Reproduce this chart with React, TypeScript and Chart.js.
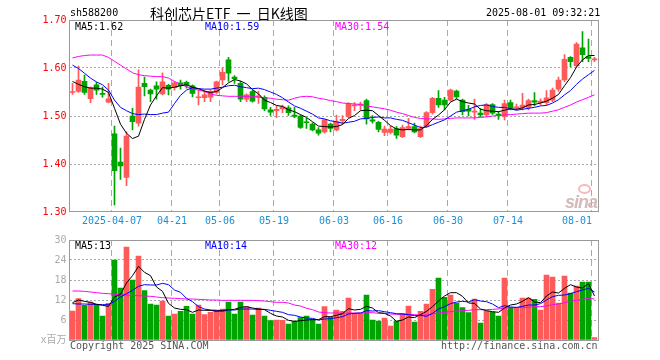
import React, { useEffect, useRef } from "react";
import { Chart, registerables } from "chart.js";

Chart.register(...registerables);

// ---- data ----
const categories = [
  "03-26","03-27","03-28","03-31","04-01","04-02","04-03","04-07","04-08","04-09",
  "04-10","04-11","04-14","04-15","04-16","04-17","04-18","04-21","04-22","04-23",
  "04-24","04-25","04-28","04-29","04-30","05-06","05-07","05-08","05-09","05-12",
  "05-13","05-14","05-15","05-16","05-19","05-20","05-21","05-22","05-23","05-26",
  "05-27","05-28","05-29","05-30","06-03","06-04","06-05","06-06","06-09","06-10",
  "06-11","06-12","06-13","06-16","06-17","06-18","06-19","06-20","06-23","06-24",
  "06-25","06-26","06-27","06-30","07-01","07-02","07-03","07-04","07-07","07-08",
  "07-09","07-10","07-11","07-14","07-15","07-16","07-17","07-18","07-21","07-22",
  "07-23","07-24","07-25","07-28","07-29","07-30","07-31","08-01"
];

const tickDates = ["04-07","04-21","05-06","05-19","06-03","06-16","06-30","07-14","08-01"];

const opens = [
  1.549,1.551,1.572,1.536,1.565,1.547,1.529,1.463,1.404,1.372,
  1.500,1.485,1.568,1.554,1.563,1.546,1.564,1.559,1.569,1.570,
  1.563,1.538,1.538,1.539,1.549,1.575,1.617,1.581,1.568,1.535,
  1.551,1.539,1.539,1.513,1.511,1.515,1.517,1.502,1.500,1.488,
  1.483,1.471,1.467,1.483,1.471,1.490,1.499,1.521,1.522,1.532,
  1.492,1.487,1.466,1.466,1.474,1.457,1.474,1.478,1.457,1.479,
  1.507,1.537,1.533,1.533,1.552,1.533,1.514,1.508,1.506,1.502,
  1.524,1.504,1.499,1.528,1.517,1.518,1.518,1.532,1.528,1.528,
  1.533,1.556,1.575,1.622,1.605,1.642,1.624,1.617
];
const highs = [
  1.568,1.604,1.585,1.561,1.570,1.560,1.568,1.479,1.433,1.467,
  1.516,1.596,1.581,1.556,1.571,1.590,1.566,1.572,1.575,1.573,
  1.565,1.554,1.553,1.554,1.573,1.601,1.622,1.584,1.572,1.546,
  1.554,1.552,1.542,1.518,1.521,1.523,1.521,1.518,1.502,1.495,
  1.486,1.476,1.493,1.485,1.502,1.501,1.528,1.528,1.529,1.535,
  1.501,1.489,1.479,1.479,1.478,1.481,1.495,1.485,1.479,1.509,
  1.539,1.553,1.539,1.556,1.554,1.535,1.522,1.535,1.516,1.526,
  1.526,1.509,1.533,1.533,1.525,1.547,1.535,1.549,1.536,1.553,
  1.558,1.581,1.628,1.624,1.653,1.676,1.660,1.622
];
const lows = [
  1.545,1.549,1.545,1.528,1.545,1.539,1.527,1.315,1.368,1.355,
  1.471,1.479,1.542,1.530,1.535,1.544,1.544,1.554,1.556,1.558,
  1.540,1.523,1.530,1.530,1.546,1.565,1.572,1.568,1.530,1.530,
  1.529,1.526,1.511,1.501,1.4965,1.507,1.501,1.4965,1.474,1.474,
  1.469,1.460,1.464,1.467,1.469,1.483,1.4965,1.511,1.5125,1.483,
  1.485,1.467,1.459,1.4625,1.4535,1.455,1.471,1.465,1.455,1.476,
  1.504,1.518,1.5125,1.531,1.536,1.502,1.500,1.493,1.4986,1.4986,
  1.5035,1.493,1.4917,1.5125,1.5125,1.5125,1.5125,1.521,1.523,1.523,
  1.530,1.551,1.5715,1.603,1.603,1.613,1.613,1.613
];
const closes = [
  1.551,1.575,1.549,1.559,1.554,1.545,1.536,1.386,1.396,1.458,
  1.488,1.560,1.561,1.546,1.556,1.571,1.556,1.569,1.563,1.565,
  1.547,1.540,1.544,1.551,1.571,1.591,1.589,1.578,1.535,1.544,
  1.531,1.542,1.515,1.508,1.514,1.519,1.507,1.499,1.476,1.486,
  1.471,1.464,1.492,1.474,1.488,1.493,1.526,1.523,1.525,1.494,
  1.489,1.472,1.473,1.473,1.460,1.476,1.478,1.467,1.474,1.507,
  1.537,1.523,1.523,1.554,1.540,1.509,1.510,1.510,1.502,1.524,
  1.506,1.501,1.526,1.517,1.519,1.523,1.532,1.529,1.531,1.538,
  1.554,1.575,1.618,1.613,1.650,1.628,1.620,1.619
];

const ma5 = [
  1.572,1.566,1.561,1.558,1.558,1.556,1.549,1.516,1.483,1.464,
  1.453,1.458,1.493,1.523,1.542,1.559,1.558,1.560,1.563,1.565,
  1.560,1.557,1.552,1.549,1.551,1.559,1.569,1.576,1.573,1.567,
  1.555,1.546,1.533,1.528,1.522,1.520,1.513,1.509,1.503,1.497,
  1.488,1.479,1.478,1.477,1.478,1.482,1.495,1.501,1.511,1.512,
  1.511,1.501,1.491,1.480,1.473,1.471,1.472,1.471,1.471,1.480,
  1.493,1.502,1.513,1.529,1.535,1.530,1.527,1.525,1.514,1.511,
  1.510,1.509,1.512,1.515,1.514,1.517,1.523,1.524,1.527,1.531,
  1.537,1.545,1.563,1.580,1.602,1.617,1.626,1.626
];
const ma10 = [
  1.606,1.599,1.589,1.579,1.571,1.565,1.554,1.533,1.518,1.511,
  1.505,1.503,1.504,1.503,1.503,1.506,1.508,1.526,1.543,1.554,
  1.559,1.557,1.556,1.556,1.558,1.560,1.563,1.564,1.561,1.559,
  1.557,1.558,1.555,1.550,1.545,1.538,1.529,1.521,1.516,1.510,
  1.504,1.496,1.494,1.490,1.488,1.485,1.487,1.489,1.494,1.495,
  1.497,1.498,1.496,1.496,1.493,1.491,1.486,1.481,1.476,1.477,
  1.482,1.487,1.492,1.500,1.508,1.511,1.514,1.519,1.522,1.523,
  1.520,1.518,1.518,1.515,1.512,1.514,1.516,1.518,1.521,1.522,
  1.527,1.534,1.544,1.553,1.566,1.577,1.586,1.595
];
const ma30 = [
  1.621,1.624,1.626,1.627,1.627,1.627,1.622,1.614,1.606,1.598,
  1.590,1.586,1.584,1.583,1.582,1.582,1.579,1.572,1.566,1.561,
  1.557,1.554,1.551,1.546,1.543,1.542,1.541,1.541,1.541,1.541,
  1.541,1.539,1.538,1.537,1.535,1.534,1.533,1.537,1.540,1.541,
  1.540,1.537,1.535,1.532,1.530,1.527,1.526,1.525,1.524,1.521,
  1.519,1.517,1.515,1.512,1.508,1.505,1.501,1.497,1.495,1.494,
  1.494,1.493,1.494,1.495,1.496,1.496,1.496,1.496,1.497,1.498,
  1.500,1.501,1.502,1.503,1.504,1.505,1.506,1.506,1.506,1.507,
  1.510,1.513,1.518,1.523,1.529,1.534,1.539,1.544
];

// volume, millions
const volumes = [
  8.7,12.4,10.4,11.4,10.7,7.2,11.0,24.0,15.6,27.9,
  18.0,25.2,14.8,10.8,10.5,11.7,7.2,7.8,8.6,10.1,
  7.8,10.5,7.6,8.3,9.0,9.3,11.4,7.8,11.4,10.0,
  7.5,9.6,7.2,5.8,6.0,5.9,4.8,5.6,6.7,7.2,
  6.2,4.8,10.0,6.9,9.0,8.6,12.6,8.0,8.0,13.5,
  6.0,5.7,6.6,4.2,5.7,8.0,10.2,5.4,8.6,10.8,
  15.2,18.6,12.8,13.5,11.1,9.7,8.2,12.3,5.1,8.7,
  8.4,7.2,18.6,9.8,9.8,12.6,12.6,12.2,9.0,19.5,
  18.9,11.1,19.2,14.1,16.2,17.4,17.4,0.7
];
const vma5 = [
  11.2,12.0,11.6,11.3,10.7,10.4,10.1,12.9,13.7,17.1,
  19.3,22.1,20.3,19.3,15.9,14.6,11.0,9.6,9.2,9.1,
  8.3,9.0,8.9,8.9,8.6,8.9,9.1,9.2,9.8,10.0,
  9.6,9.3,9.1,8.0,7.2,6.9,5.9,5.6,5.8,6.0,
  6.1,6.1,7.0,7.0,7.4,7.9,9.4,9.0,9.2,10.1,
  9.6,8.2,8.0,7.2,5.6,6.0,6.9,6.7,7.6,8.6,
  10.0,11.7,13.2,14.2,14.2,13.1,11.1,11.0,9.3,8.8,
  8.5,8.3,9.6,10.5,10.8,11.6,12.7,11.4,11.2,13.2,
  14.4,14.1,15.5,16.6,15.9,15.6,16.9,13.2
];
const vma10 = [
  10.9,10.8,10.8,10.7,10.7,10.6,10.6,11.6,12.9,13.9,
  14.9,16.1,16.6,16.5,16.5,17.0,16.6,15.0,14.3,12.5,
  11.5,10.0,9.3,9.0,8.9,8.6,9.0,9.0,9.3,9.3,
  9.3,9.2,9.2,8.9,8.6,8.3,7.6,7.4,6.9,6.6,
  6.5,6.0,6.3,6.4,6.7,7.0,7.8,8.0,8.1,8.8,
  8.7,8.8,8.5,8.2,7.9,7.8,7.6,7.3,7.4,7.1,
  8.0,9.3,10.0,10.9,11.4,11.6,11.4,12.1,11.7,11.5,
  10.8,9.7,10.3,9.9,9.8,10.1,10.5,10.5,10.9,12.0,
  13.0,13.4,13.5,13.9,14.5,15.0,15.5,14.4
];
const vma30 = [
  14.7,14.7,14.6,14.4,14.2,14.0,13.9,13.7,13.6,13.5,
  13.4,13.3,13.2,13.1,12.9,12.7,12.6,12.5,12.4,12.3,
  12.3,12.2,12.1,12.0,12.0,11.9,11.9,11.9,11.9,11.9,
  11.9,11.8,11.7,11.5,11.3,11.3,11.1,10.5,10.2,9.5,
  9.1,8.4,8.2,8.1,8.1,8.0,8.1,8.1,8.1,8.2,
  8.2,8.0,8.0,7.8,7.7,7.7,7.7,7.6,7.5,7.5,
  7.8,8.1,8.3,8.5,8.7,8.8,8.9,9.1,9.1,9.1,
  9.2,9.3,9.6,9.7,9.7,9.8,9.8,10.0,10.0,10.2,
  10.6,10.8,11.2,11.6,11.9,12.2,12.5,12.3
];

// ---- styles ----
const RED = "#ff5a5a";
const GREEN = "#00a400";
const GRID = "#aaaaaa";
const DATE_BLUE = "#1e8fd4";
const MONO = "'DejaVu Sans Mono', 'Noto Sans CJK SC', monospace";

const candleColors = opens.map((o, i) => (closes[i] >= o ? RED : GREEN));
const dateIdx = tickDates.map((d) => categories.indexOf(d));

function makeFrame(bottomOffset: number) {
  return {
    id: "frame" + bottomOffset,
    afterDraw(chart: any) {
      const { ctx, chartArea } = chart;
      ctx.save();
      ctx.strokeStyle = "#999999";
      ctx.lineWidth = 1;
      const x1 = 69.5;
      const x2 = Math.round(chartArea.right) + 0.5;
      const y1 = Math.round(chartArea.top) + 0.5;
      const y2 = Math.round(chartArea.bottom) + bottomOffset;
      ctx.strokeRect(x1, y1, x2 - x1, y2 - y1);
      ctx.restore();
    },
  };
}

function xScale(showLabels: boolean) {
  return {
    offset: true,
    grid: {
      offset: true,
      drawTicks: false,
      lineWidth: 1,
      color: (c: any) => (dateIdx.includes(c.index) ? GRID : "rgba(0,0,0,0)"),
    },
    border: { display: false, dash: [6, 4] },
    ticks: {
      display: showLabels,
      autoSkip: false,
      maxRotation: 0,
      minRotation: 0,
      padding: 3,
      labelOffset: -2.5,
      color: DATE_BLUE,
      font: { family: MONO, size: 10 },
      callback: (_v: any, index: number) => {
        const d = categories[index];
        if (!tickDates.includes(d)) return "";
        if (index === dateIdx[0]) return "2025-" + d;
        if (index === categories.length - 1) return d + "     ";
        return d;
      },
    },
    afterFit: (s: any) => {
      s.height = showLabels ? 16 : 0;
    },
  };
}

function lineDs(label: string, data: number[], color: string) {
  return {
    type: "line" as const,
    label,
    data,
    borderColor: color,
    borderWidth: 1,
    pointRadius: 0,
    tension: 0,
    order: 0,
  };
}

export default function App() {
  const mainRef = useRef<HTMLCanvasElement>(null);
  const volRef = useRef<HTMLCanvasElement>(null);

  useEffect(() => {
    const main = new Chart(mainRef.current as HTMLCanvasElement, {
      type: "bar",
      data: {
        labels: categories,
        datasets: [
          lineDs("MA5", ma5, "#000000"),
          lineDs("MA10", ma10, "#0000ff"),
          lineDs("MA30", ma30, "#ff00ff"),
          {
            type: "bar",
            label: "body",
            data: opens.map((o, i) => [o, closes[i]]),
            backgroundColor: candleColors,
            barThickness: 5,
            grouped: false,
            minBarLength: 1,
            order: 1,
          },
          {
            type: "bar",
            label: "wick",
            data: lows.map((l, i) => [l, highs[i]]),
            backgroundColor: candleColors,
            barThickness: 1,
            grouped: false,
            order: 2,
          },
        ] as any,
      },
      options: {
        responsive: false,
        animation: false,
        devicePixelRatio: 1,
        layout: { padding: { left: 0, right: 62.5, top: 20, bottom: 0 } },
        plugins: { legend: { display: false }, tooltip: { enabled: false } },
        scales: {
          x: xScale(true) as any,
          y: {
            min: 1.3,
            max: 1.7,
            ticks: {
              stepSize: 0.1,
              padding: 3,
              color: "#ff0000",
              font: { family: MONO, size: 10 },
              callback: (v: any) => Number(v).toFixed(2),
            },
            grid: {
              drawTicks: false,
              color: (c: any) => {
                const v = c.tick ? c.tick.value : 0;
                return Math.abs(v - 1.3) < 1e-6 || Math.abs(v - 1.7) < 1e-6 ? "rgba(0,0,0,0)" : GRID;
              },
            },
            border: { display: false, dash: [2, 2] },
            afterFit: (s: any) => {
              s.width = 69.5;
            },
          } as any,
        },
      },
      plugins: [makeFrame(-0.5)],
    });

    const vol = new Chart(volRef.current as HTMLCanvasElement, {
      type: "bar",
      data: {
        labels: categories,
        datasets: [
          lineDs("MA5", vma5, "#000000"),
          lineDs("MA10", vma10, "#0000ff"),
          lineDs("MA30", vma30, "#ff00ff"),
          {
            type: "bar",
            label: "volume",
            data: volumes,
            backgroundColor: candleColors,
            barThickness: 5,
            grouped: false,
            order: 1,
          },
        ] as any,
      },
      options: {
        responsive: false,
        animation: false,
        devicePixelRatio: 1,
        layout: { padding: { left: 0, right: 62.5, top: 12, bottom: 20 } },
        plugins: { legend: { display: false }, tooltip: { enabled: false } },
        scales: {
          x: xScale(false) as any,
          y: {
            min: 0,
            max: 30,
            ticks: {
              stepSize: 6,
              padding: 3,
              color: "#aaaaaa",
              font: { family: MONO, size: 10 },
              callback: (v: any) => (Number(v) === 0 ? "x百万" : String(v)),
            },
            grid: {
              drawTicks: false,
              color: (c: any) => {
                const v = c.tick ? c.tick.value : 0;
                return v === 0 || v === 30 ? "rgba(0,0,0,0)" : GRID;
              },
            },
            border: { display: false, dash: [2, 2] },
            afterFit: (s: any) => {
              s.width = 69.5;
            },
          } as any,
        },
      },
      plugins: [makeFrame(0.5)],
    });

    return () => {
      main.destroy();
      vol.destroy();
    };
  }, []);

  const txt = (left: number, top: number, text: string, color = "#000", extra: any = {}) => (
    <div
      style={{
        position: "absolute",
        left,
        top,
        fontFamily: MONO,
        fontSize: 10,
        lineHeight: "12px",
        color,
        whiteSpace: "pre",
        ...extra,
      }}
    >
      {text}
    </div>
  );

  return (
    <div
      style={{
        position: "absolute",
        left: 0,
        top: 0,
        width: 660,
        height: 360,
        background: "#ffffff",
        overflow: "hidden",
      }}
    >
      <canvas ref={mainRef} width={660} height={228} style={{ position: "absolute", left: 0, top: 0 }} />
      <canvas ref={volRef} width={660} height={132} style={{ position: "absolute", left: 0, top: 228 }} />

      {txt(70, 7, "sh588200")}
      {txt(150, 6, "科创芯片ETF 一 日K线图", "#000", {
        fontFamily: "'Noto Sans CJK SC', sans-serif",
        fontSize: 14,
        lineHeight: "14px",
        wordSpacing: 3,
      })}
      {txt(486, 7, "2025-08-01 09:32:21")}

      {txt(75, 21, "MA5:1.62", "#000000")}
      {txt(205, 21, "MA10:1.59", "#0000ff")}
      {txt(335, 21, "MA30:1.54", "#ff00ff")}

      {txt(75, 240, "MA5:13", "#000000")}
      {txt(205, 240, "MA10:14", "#0000ff")}
      {txt(335, 240, "MA30:12", "#ff00ff")}

      {txt(70, 340, "Copyright 2025 SINA.COM", "#555555")}
      {txt(441, 340, "http://finance.sina.com.cn", "#555555")}

      <div
        style={{
          position: "absolute",
          left: 578,
          top: 184,
          width: 9,
          height: 6,
          borderRadius: "50%",
          border: "2px solid rgba(240,120,120,0.5)",
        }}
      />
      <div
        style={{
          position: "absolute",
          left: 565,
          top: 193,
          fontFamily: "'Liberation Sans', sans-serif",
          fontStyle: "italic",
          fontWeight: "bold",
          fontSize: 18,
          lineHeight: "18px",
          letterSpacing: -1,
          color: "rgba(200,170,170,0.8)",
        }}
      >
        sina
      </div>
    </div>
  );
}
